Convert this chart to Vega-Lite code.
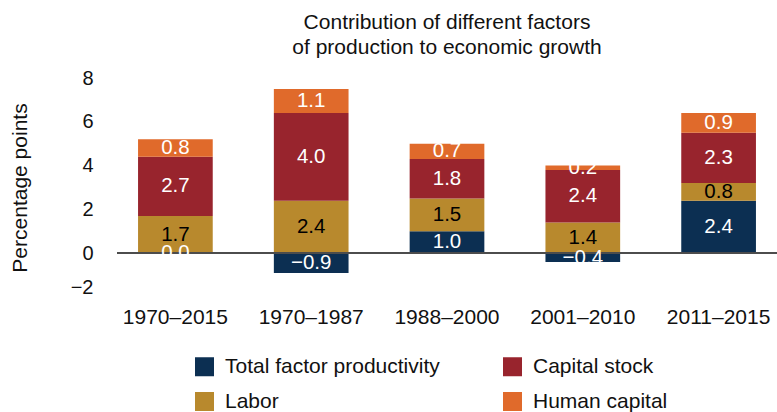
{
  "$schema": "https://vega.github.io/schema/vega-lite/v6.json",
  "width": 660,
  "height": 219,
  "autosize": "none",
  "padding": {"left": 117, "top": 78, "right": 0, "bottom": 115},
  "config": {"font": "Liberation Sans", "view": {"stroke": null}},
  "title": {
    "text": ["Contribution of different factors", "of production to economic growth"],
    "fontSize": 21,
    "fontWeight": "normal",
    "color": "#111111",
    "anchor": "middle",
    "lineHeight": 25,
    "offset": 10
  },
  "data": {
    "values": [
      {"period": "1970–2015", "factor": "Total factor productivity", "value": 0.0, "ord": 1},
      {"period": "1970–2015", "factor": "Labor", "value": 1.7, "ord": 2},
      {"period": "1970–2015", "factor": "Capital stock", "value": 2.7, "ord": 3},
      {"period": "1970–2015", "factor": "Human capital", "value": 0.8, "ord": 4},
      {"period": "1970–1987", "factor": "Total factor productivity", "value": -0.9, "ord": 1},
      {"period": "1970–1987", "factor": "Labor", "value": 2.4, "ord": 2},
      {"period": "1970–1987", "factor": "Capital stock", "value": 4.0, "ord": 3},
      {"period": "1970–1987", "factor": "Human capital", "value": 1.1, "ord": 4},
      {"period": "1988–2000", "factor": "Total factor productivity", "value": 1.0, "ord": 1},
      {"period": "1988–2000", "factor": "Labor", "value": 1.5, "ord": 2},
      {"period": "1988–2000", "factor": "Capital stock", "value": 1.8, "ord": 3},
      {"period": "1988–2000", "factor": "Human capital", "value": 0.7, "ord": 4},
      {"period": "2001–2010", "factor": "Total factor productivity", "value": -0.4, "ord": 1},
      {"period": "2001–2010", "factor": "Labor", "value": 1.4, "ord": 2},
      {"period": "2001–2010", "factor": "Capital stock", "value": 2.4, "ord": 3},
      {"period": "2001–2010", "factor": "Human capital", "value": 0.2, "ord": 4},
      {"period": "2011–2015", "factor": "Total factor productivity", "value": 2.4, "ord": 1},
      {"period": "2011–2015", "factor": "Labor", "value": 0.8, "ord": 2},
      {"period": "2011–2015", "factor": "Capital stock", "value": 2.3, "ord": 3},
      {"period": "2011–2015", "factor": "Human capital", "value": 0.9, "ord": 4}
    ]
  },
  "transform": [
    {"stack": "value", "groupby": ["period"], "sort": [{"field": "ord", "order": "ascending"}], "as": ["v0", "v1"]},
    {"calculate": "(datum.v0 + datum.v1) / 2", "as": "mid"}
  ],
  "layer": [
    {
      "mark": {"type": "bar"},
      "encoding": {
        "x": {
          "field": "period",
          "type": "nominal",
          "sort": null,
          "scale": {"paddingInner": 0.45, "paddingOuter": 0.155},
          "axis": {
            "title": null,
            "domain": false,
            "ticks": false,
            "labelAngle": 0,
            "labelFontSize": 21,
            "labelColor": "#111111",
            "labelPadding": 9
          }
        },
        "y": {
          "field": "v0",
          "type": "quantitative",
          "scale": {"domain": [-2, 8], "nice": false},
          "axis": {
            "title": "Percentage points",
            "titleFontSize": 21,
            "titleFontWeight": "normal",
            "titleColor": "#111111",
            "titlePadding": 40,
            "values": [-2, 0, 2, 4, 6, 8],
            "domain": false,
            "ticks": false,
            "grid": false,
            "labelFontSize": 20,
            "labelColor": "#111111",
            "labelPadding": 24,
            "labelBaseline": {"condition": {"test": "datum.value == -2", "value": "bottom"}, "value": "middle"}
          }
        },
        "y2": {"field": "v1"},
        "color": {
          "field": "factor",
          "type": "nominal",
          "scale": {
            "domain": ["Total factor productivity", "Labor", "Capital stock", "Human capital"],
            "range": ["#0c2f52", "#b8892d", "#98242d", "#e06a2b"]
          },
          "legend": {
            "title": null,
            "orient": "none",
            "legendX": 77,
            "legendY": 278,
            "columns": 2,
            "columnPadding": 62,
            "rowPadding": 13,
            "symbolType": "square",
            "symbolSize": 361,
            "symbolStrokeWidth": 0,
            "symbolOpacity": 1,
            "labelFontSize": 21,
            "labelLimit": 400,
            "labelColor": "#111111",
            "labelOffset": 10,
            "padding": 0
          }
        }
      }
    },
    {
      "mark": {"type": "rule", "color": "#4d4d4d", "strokeWidth": 1.5},
      "encoding": {"y": {"datum": 0}}
    },
    {
      "mark": {"type": "text", "fontSize": 20.5},
      "encoding": {
        "x": {"field": "period", "type": "nominal", "sort": null},
        "y": {"field": "mid", "type": "quantitative"},
        "text": {"field": "value", "type": "quantitative", "format": ".1f"},
        "color": {"condition": {"test": "datum.factor === 'Labor'", "value": "#000000"}, "value": "#ffffff"}
      }
    }
  ]
}
